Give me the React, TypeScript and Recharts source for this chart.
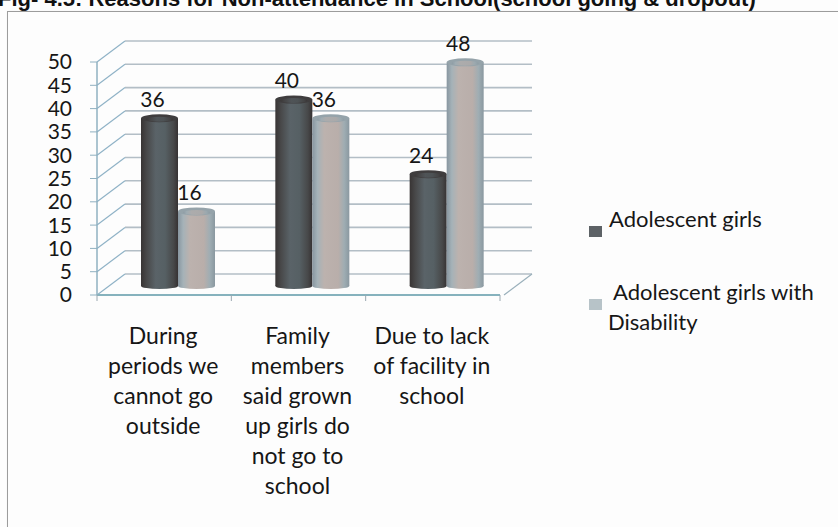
import { Bar, BarChart, CartesianGrid, LabelList, Legend, XAxis, YAxis } from 'recharts';

const categories = [
  'During\nperiods we\ncannot go\noutside',
  'Family\nmembers\nsaid grown\nup girls do\nnot go to\nschool',
  'Due to lack\nof facility in\nschool',
];
const adolescentGirls = [36, 40, 24];
const girlsWithDisability = [16, 36, 48];
const seriesNames = ['Adolescent girls', 'Adolescent girls with Disability'];
const yTicks = [0, 5, 10, 15, 20, 25, 30, 35, 40, 45, 50];

const data = categories.map((category, i) => ({
  category,
  girls: adolescentGirls[i],
  disability: girlsWithDisability[i],
}));

// fake 3D: front plane holds the axes, bars sit a bit deeper, grid on the back wall
const W = 838;
const H = 527;
const PLOT_LEFT = 97;
const PLOT_RIGHT = 500;
const PLOT_TOP = 62;
const PLOT_BOTTOM = 295;
const BAR_DX = 14;
const BAR_DY = -9;
const BACK_DX = 28;
const BACK_DY = -21;
const FONT = 'Lato, "Open Sans", sans-serif';
const HALF_BAND = (PLOT_RIGHT - PLOT_LEFT) / categories.length / 2;

const barStyles = {
  girls: { grad: 'gradDark', top: '#3f3d3e', legend: '#5d6266' },
  disability: { grad: 'gradLight', top: '#95a3aa', legend: '#b7c3c8' },
};

function cylinder(kind: 'girls' | 'disability') {
  return (props: any) => {
    const { x, y, width, height } = props;
    const X = x + BAR_DX;
    const Y = y + BAR_DY;
    const st = barStyles[kind];
    return (
      <g>
        <ellipse cx={X + width / 2} cy={Y + height} rx={width / 2} ry={3} fill={`url(#${st.grad})`} />
        <rect x={X} y={Y} width={width} height={height} fill={`url(#${st.grad})`} />
        <ellipse cx={X + width / 2} cy={Y} rx={width / 2} ry={4} fill={st.top} />
        <ellipse cx={X + width / 2} cy={Y + 1} rx={width / 2 - 5} ry={2.5} fill={`url(#${st.grad})`} opacity={0.6} />
      </g>
    );
  };
}

function valueLabel(props: any) {
  const { x, y, width, value } = props;
  return (
    <text
      x={x + width / 2 + BAR_DX - 7}
      y={y + BAR_DY - 20}
      textAnchor="middle"
      dominantBaseline="central"
      fontFamily={FONT}
      fontSize={21}
      fill="#161616"
    >
      {value}
    </text>
  );
}

function gridLine(props: any) {
  const { x1, y1, x2, index } = props;
  const isFloor = Math.abs(y1 - PLOT_BOTTOM) < 1;
  return (
    <g key={`g-${index}-${y1}`}>
      <line x1={x1 + BACK_DX} y1={y1 + BACK_DY} x2={x2 + BACK_DX + 4} y2={y1 + BACK_DY} stroke="#b3bec6" strokeWidth={1.6} />
      <line x1={x1} y1={y1} x2={x1 + BACK_DX} y2={y1 + BACK_DY} stroke="#8fb2c6" strokeWidth={1.2} />
      {isFloor && (
        <line x1={x2 + 4} y1={y1} x2={x2 + BACK_DX + 4} y2={y1 + BACK_DY} stroke="#9ab0bb" strokeWidth={1.2} />
      )}
    </g>
  );
}

function categoryTick(props: any) {
  const { x, payload, index } = props;
  const lines = String(payload.value).split('\n');
  return (
    <g>
      <line x1={x - HALF_BAND} y1={PLOT_BOTTOM} x2={x - HALF_BAND} y2={PLOT_BOTTOM + 6} stroke="#9aa8b0" />
      {index === categories.length - 1 && (
        <line x1={x + HALF_BAND} y1={PLOT_BOTTOM} x2={x + HALF_BAND} y2={PLOT_BOTTOM + 6} stroke="#9aa8b0" />
      )}
      {lines.map((ln, i) => (
        <text
          key={i}
          x={x - 1}
          y={PLOT_BOTTOM + 40 + i * 30}
          textAnchor="middle"
          dominantBaseline="central"
          fontFamily={FONT}
          fontSize={23}
          fill="#161616"
        >
          {ln}
        </text>
      ))}
    </g>
  );
}

function LegendContent(props: any) {
  const items = props.payload ?? [];
  return (
    <div style={{ position: 'relative', width: 250, height: 140, fontFamily: FONT, fontSize: 22, color: '#161616' }}>
      {items.map((it: any, i: number) => {
        const st = barStyles[it.dataKey as 'girls' | 'disability'];
        const top = i * 73;
        return (
          <div key={i}>
            <div style={{ position: 'absolute', left: 3, top: top + 26, width: 13, height: 11, background: st.legend }} />
            <div
              style={{
                position: 'absolute',
                left: 22,
                top: top + 4,
                width: 232,
                lineHeight: '30px',
                textIndent: i === 0 ? 1 : 5,
              }}
            >
              {it.value}
            </div>
          </div>
        );
      })}
    </div>
  );
}

export default function App() {
  return (
    <div style={{ position: 'absolute', left: 0, top: 0, width: W, height: H, overflow: 'hidden', background: '#fdfdfd' }}>
      <div
        style={{
          position: 'absolute',
          left: -2,
          top: -14,
          whiteSpace: 'nowrap',
          fontFamily: '"Liberation Sans", Arial, sans-serif',
          fontWeight: 'bold',
          fontSize: 22,
          color: '#111',
        }}
      >
        Fig- 4.5: Reasons for Non-attendance in School(school going &amp; dropout)
      </div>
      <div
        style={{
          position: 'absolute',
          left: 7,
          top: 11,
          width: 900,
          height: 600,
          border: '1.5px solid #9c9c9c',
          boxShadow: '1px 1px 2px #cfcfcf',
        }}
      />
      <div style={{ position: 'absolute', left: 0, top: 0 }}>
        <BarChart
          width={W}
          height={H}
          data={data}
          barGap={0}
          margin={{ top: PLOT_TOP, right: W - PLOT_RIGHT, bottom: 12, left: 0 }}
        >
          <defs>
            <linearGradient id="gradDark" x1="0" y1="0" x2="1" y2="0">
              <stop offset="0%" stopColor="#383434" />
              <stop offset="15%" stopColor="#484849" />
              <stop offset="40%" stopColor="#5a6368" />
              <stop offset="65%" stopColor="#566064" />
              <stop offset="88%" stopColor="#474849" />
              <stop offset="100%" stopColor="#363233" />
            </linearGradient>
            <linearGradient id="gradLight" x1="0" y1="0" x2="1" y2="0">
              <stop offset="0%" stopColor="#8896a0" />
              <stop offset="14%" stopColor="#a5b2b8" />
              <stop offset="32%" stopColor="#bcb2ae" />
              <stop offset="70%" stopColor="#b9aeaa" />
              <stop offset="86%" stopColor="#9fadb3" />
              <stop offset="100%" stopColor="#8a98a0" />
            </linearGradient>
          </defs>
          <CartesianGrid vertical={false} horizontal={gridLine} />
          <XAxis
            dataKey="category"
            interval={0}
            height={220}
            tickLine={false}
            axisLine={{ stroke: '#86b2bd', strokeWidth: 2 }}
            tick={categoryTick}
          />
          <YAxis
            width={PLOT_LEFT}
            domain={[0, 50]}
            ticks={yTicks}
            interval={0}
            tickSize={7}
            tickMargin={18}
            axisLine={{ stroke: '#8fb0c0', strokeWidth: 1.5 }}
            tickLine={{ stroke: '#8fb0c0' }}
            tick={{ fontFamily: FONT, fontSize: 21, fill: '#161616' }}
          />
          <Legend
            layout="horizontal"
            verticalAlign="middle"
            align="center"
            wrapperStyle={{ left: 586, top: 200, width: 250 }}
            content={LegendContent}
          />
          <Bar dataKey="girls" name={seriesNames[0]} barSize={37} shape={cylinder('girls')} isAnimationActive={false}>
            <LabelList dataKey="girls" content={valueLabel} />
          </Bar>
          <Bar dataKey="disability" name={seriesNames[1]} barSize={37} shape={cylinder('disability')} isAnimationActive={false}>
            <LabelList dataKey="disability" content={valueLabel} />
          </Bar>
        </BarChart>
      </div>
    </div>
  );
}
